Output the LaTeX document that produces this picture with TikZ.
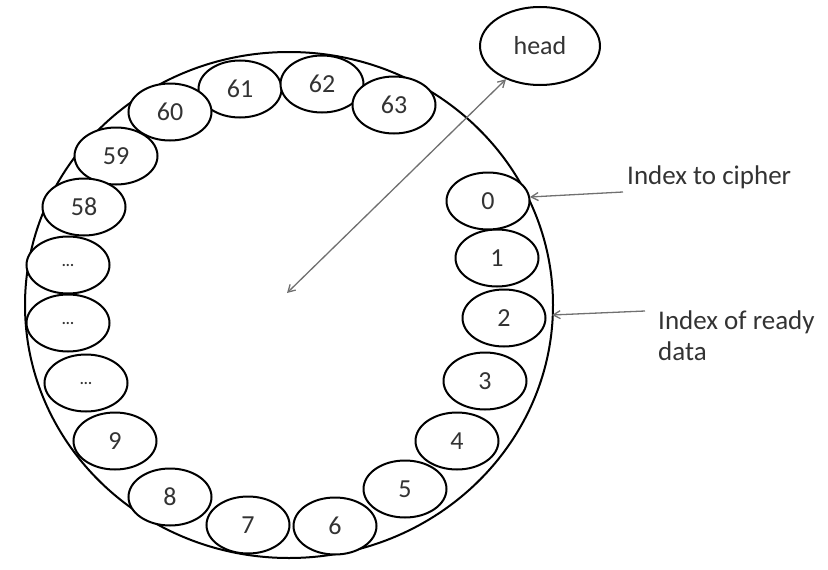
\documentclass[tikz,border=0pt]{standalone}
\usepackage{fontspec}
\setmainfont{Carlito}
\usetikzlibrary{shapes.geometric,arrows.meta}
\definecolor{txt}{HTML}{333333}
\definecolor{arr}{HTML}{707070}
\tikzset{
  slot/.style={ellipse,draw=black,line width=2pt,fill=white,minimum width=83pt,minimum height=57pt,inner sep=0pt,text=txt,font=\fontsize{26}{30}\selectfont},
  dots/.style={slot,font=\fontsize{15}{17}\selectfont\bfseries},
  ring/.style={ellipse,draw=black,line width=2pt,minimum width=528pt,minimum height=506pt,inner sep=0pt},
  lbl/.style={anchor=west,text=txt,font=\fontsize{27}{31}\selectfont,align=left,inner sep=0pt},
  ptr/.style={draw=arr,line width=1.3pt,-{Straight Barb[length=7pt,width=8pt]}},
  dptr/.style={draw=arr,line width=1.3pt,{Straight Barb[length=7pt,width=8pt]}-{Straight Barb[length=7pt,width=8pt]}}
}
\begin{document}
\begin{tikzpicture}[x=1pt,y=-1pt]
\useasboundingbox (0,0) rectangle (828,570);
\node[ring] (ring) at (289,305) {};
\node[slot] (s61) at (240,89) {61};
\node[slot] (s62) at (322,84) {62};
\node[slot] (s63) at (394,105) {63};
\node[slot] (s60) at (170,112) {60};
\node[slot] (s59) at (116,156) {59};
\node[slot] (s58) at (84,207) {58};
\node[dots] (d1) at (68,265) {...};
\node[dots] (d2) at (68,323) {...};
\node[dots] (d3) at (86,383) {...};
\node[slot] (s9) at (115,441) {9};
\node[slot] (s8) at (170,497) {8};
\node[slot] (s7) at (248,525) {7};
\node[slot] (s6) at (335,526) {6};
\node[slot] (s5) at (405,489) {5};
\node[slot] (s4) at (457,441) {4};
\node[slot] (s3) at (485,381) {3};
\node[slot] (s2) at (504,318) {2};
\node[slot] (s1) at (497,258) {1};
\node[slot] (s0) at (488,201) {0};
\node[slot,minimum width=120pt,minimum height=78pt] (head) at (540,46) {head};
\coordinate (ctr) at (287,293);
\draw[dptr] (ctr) -- (head);
\node[lbl] (l1) at (627,177) {Index to cipher};
\node[lbl,anchor=north west] (l2) at (658,311) {Index of ready\\data};
\coordinate (t1s) at (623,192);
\coordinate (t1e) at (530,197);
\coordinate (t2s) at (645,311);
\coordinate (t2e) at (552,315);
\draw[ptr] (t1s) -- (t1e);
\draw[ptr] (t2s) -- (t2e);
\end{tikzpicture}
\end{document}
